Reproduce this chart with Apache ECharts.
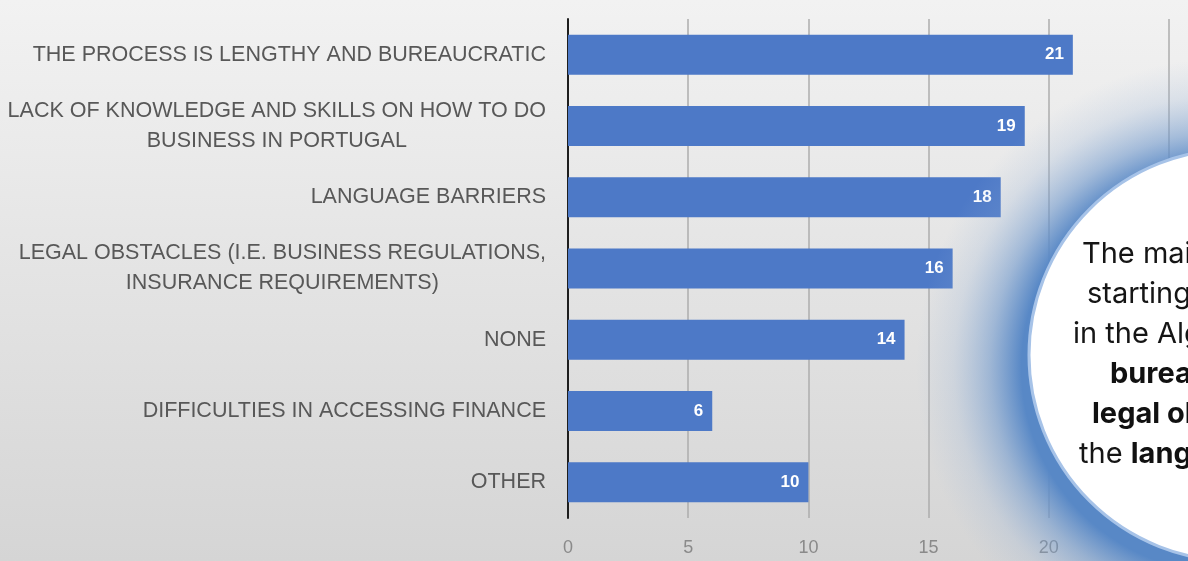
<!DOCTYPE html>
<html>
<head>
<meta charset="utf-8">
<script src="https://cdn.jsdelivr.net/npm/echarts@6/dist/echarts.min.js"></script>
<style>
html,body{margin:0;padding:0;}
#chart{width:1188px;height:561px;}
</style>
</head>
<body>
<div id="chart"></div>
<script>
var categories = [
  "THE PROCESS IS LENGTHY AND BUREAUCRATIC",
  "LACK OF KNOWLEDGE AND SKILLS ON HOW TO DO\nBUSINESS IN PORTUGAL",
  "LANGUAGE BARRIERS",
  "LEGAL OBSTACLES (I.E. BUSINESS REGULATIONS,\nINSURANCE REQUIREMENTS)",
  "NONE",
  "DIFFICULTIES IN ACCESSING FINANCE",
  "OTHER"
];
var values = [21, 19, 18, 16, 14, 6, 10];
var xTicks = { min: 0, max: 25, interval: 5 };

var calloutLines = [
  "The main obstacles to",
  "starting a business",
  "in the Algarve are",
  "{b|bureaucracy,}",
  "{b|legal obstacles}",
  "the {b|language}"
];

var labelFont = "'Liberation Sans', Arial, sans-serif";
var chart = echarts.init(document.getElementById('chart'));

var lineX = [1082, 1087, 1073, 1110, 1092, 1079];
var lineMid = [254, 294, 334, 374, 414, 454];
var textEls = calloutLines.map(function (t, i) {
  return {
    type: 'text', z: 103, x: lineX[i], y: lineMid[i],
    style: {
      text: t, fill: '#151515', fontFamily: 'Inter', fontWeight: 400, fontSize: 29,
      verticalAlign: 'middle', align: 'left',
      rich: { b: { fontFamily: 'Inter', fontWeight: 700, fontSize: 29, fill: '#111' } }
    }
  };
});

chart.setOption({
  backgroundColor: {
    type: 'linear', x: 0, y: 0, x2: 0, y2: 1,
    colorStops: [{ offset: 0, color: '#f2f2f2' }, { offset: 1, color: '#d5d5d5' }]
  },
  animation: false,
  grid: { left: 568, right: 19, top: 19, bottom: 43, containLabel: false, outerBoundsMode: 'none' },
  xAxis: {
    type: 'value', min: xTicks.min, max: xTicks.max, interval: xTicks.interval,
    axisLine: { show: false }, axisTick: { show: false },
    splitLine: { show: true, lineStyle: { color: '#adadad', width: 1.5 } },
    axisLabel: { margin: 21, color: '#8a8a8a', fontSize: 18, fontFamily: labelFont }
  },
  yAxis: {
    type: 'category', data: categories, inverse: true,
    axisLine: { show: true, lineStyle: { color: '#1e1e1e', width: 2 } },
    axisTick: { show: false },
    axisLabel: {
      margin: 22, color: '#585858', fontSize: 21.5, fontFamily: labelFont, lineHeight: 30,
      formatter: function (v) {
        if (v.indexOf('\n') < 0) return v;
        return v.split('\n').map(function (l) { return '{c|' + l + '}'; }).join('\n');
      },
      rich: { c: { align: 'center', fontSize: 21.5, fontFamily: labelFont, color: '#585858', lineHeight: 30 } }
    }
  },
  series: [{
    type: 'bar', data: values, barWidth: 40,
    itemStyle: { color: '#4d79c7' },
    label: {
      show: true, position: 'insideRight', distance: 9,
      color: '#ffffff', fontWeight: 'bold', fontSize: 17, fontFamily: "'Liberation Sans', sans-serif"
    }
  }],
  graphic: [
    {
      type: 'circle', z: 100, shape: { cx: 1226, cy: 368, r: 310 },
      style: {
        fill: {
          type: 'radial', x: 0.5, y: 0.5, r: 0.5,
          colorStops: [
            { offset: 0, color: 'rgba(88,136,198,1)' },
            { offset: 0.66, color: 'rgba(88,136,198,1)' },
            { offset: 0.76, color: 'rgba(104,148,204,0.55)' },
            { offset: 0.88, color: 'rgba(140,172,214,0.2)' },
            { offset: 1, color: 'rgba(160,185,220,0)' }
          ]
        }
      }
    },
    {
      type: 'circle', z: 101, shape: { cx: 1235, cy: 355, r: 206 },
      style: { fill: '#ffffff', stroke: '#a7c3e8', lineWidth: 3 }
    }
  ].concat(textEls)
});
</script>
</body>
</html>
